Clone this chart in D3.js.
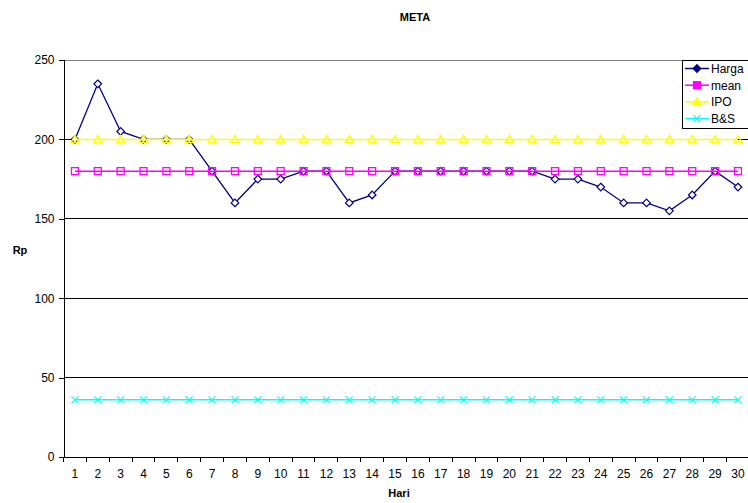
<!DOCTYPE html>
<html><head><meta charset="utf-8">
<script src="https://cdn.jsdelivr.net/npm/d3@7"></script>
<style>body{margin:0;background:#fff}svg{display:block;font-family:"Liberation Sans",Arial,sans-serif}</style>
</head><body><svg id="c" width="748" height="503"></svg>
<script>
const days = d3.range(1, 31).map(String);
const harga = [200,235,205,200,200,200,180,160,175,175,180,180,160,165,180,180,180,180,180,180,180,175,175,170,160,160,155,165,180,170];
const meanVal = days.map(() => 180);
const ipo = days.map(() => 200);
const bs = days.map(() => 36);
const yTicks = [0,50,100,150,200,250];
const seriesNames = ["Harga","mean","IPO","B&S"];

const svg = d3.select("#c");
const L = 63.5, R = 749.4, T = 60, B = 457;
const x = d3.scaleBand().domain(days).range([L, R]);
const y = d3.scaleLinear().domain([0, 250]).range([B, T]);

svg.append("g").selectAll("line").data(yTicks.filter(v => v > 0)).join("line")
  .attr("x1", L).attr("x2", R).attr("y1", d => y(d)).attr("y2", d => y(d))
  .attr("stroke", d => d === 250 ? "#808080" : "#000").attr("stroke-width", 1).attr("shape-rendering","crispEdges");

const ya = svg.append("g").attr("transform", `translate(${L},0)`)
  .call(d3.axisLeft(y).tickValues(yTicks).tickSize(5).tickPadding(4));
ya.select(".domain").attr("stroke", "#000").attr("shape-rendering","crispEdges");
ya.selectAll("line").attr("shape-rendering","crispEdges");
ya.selectAll("text").attr("font-size", 12).attr("font-family", "Liberation Sans, Arial").attr("fill","#000");

const xa = svg.append("g").attr("transform", `translate(0,${B})`)
  .call(d3.axisBottom(x).tickSize(0).tickPadding(12));
xa.select(".domain").attr("stroke", "#000").attr("shape-rendering","crispEdges");
xa.selectAll("text").attr("font-size", 12).attr("font-family", "Liberation Sans, Arial").attr("fill","#000");
svg.append("g").selectAll("line").data(d3.range(0, 31)).join("line")
  .attr("x1", i => L + i * x.step()).attr("x2", i => L + i * x.step())
  .attr("y1", B).attr("y2", B + 5).attr("stroke", "#000").attr("shape-rendering","crispEdges");

const cx = d => x(d) + x.bandwidth() / 2;
const line = d3.line().x((v, i) => cx(days[i])).y(v => y(v));

function marker(g, type, color, filled) {
  if (type === "diamond") {
    g.append("path").attr("d", "M0,-3.8L3.8,0L0,3.8L-3.8,0Z").attr("fill", filled ? color : "#fff").attr("stroke", color).attr("stroke-width", 1.2);
  } else if (type === "square") {
    g.append("rect").attr("x", -3.5).attr("y", -3.5).attr("width", 7).attr("height", 7).attr("fill", filled ? color : "none").attr("stroke", color).attr("stroke-width", 1.3);
  } else if (type === "triangle") {
    g.append("path").attr("d", "M0,-4L4,3L-4,3Z").attr("fill", filled ? color : "none").attr("stroke", color).attr("stroke-width", 1.3);
  } else {
    g.append("path").attr("d", "M-3.5,-3.5L3.5,3.5M-3.5,3.5L3.5,-3.5").attr("stroke", color).attr("stroke-width", 1.2);
  }
}

const series = [
  {name: seriesNames[0], vals: harga, color: "#000080", type: "diamond"},
  {name: seriesNames[1], vals: meanVal, color: "#FF00FF", type: "square"},
  {name: seriesNames[2], vals: ipo, color: "#FFFF00", type: "triangle"},
  {name: seriesNames[3], vals: bs, color: "#00FFFF", type: "x"}
];
series.forEach(s => {
  svg.append("path").attr("d", line(s.vals)).attr("fill", "none").attr("stroke", s.color).attr("stroke-width", s.type==="diamond"?1.3:1.5);
  s.vals.forEach((v, i) => {
    const g = svg.append("g").attr("transform", `translate(${cx(days[i])},${y(v)})`);
    marker(g, s.type, s.color, false);
  });
});

svg.append("text").attr("x", 415).attr("y", 21).attr("text-anchor", "middle").attr("font-size", 11).attr("font-weight", "bold").text("META");
svg.append("text").attr("x", 20).attr("y", 254).attr("text-anchor", "middle").attr("font-size", 11).attr("font-weight", "bold").text("Rp");
svg.append("text").attr("x", 399).attr("y", 497).attr("text-anchor", "middle").attr("font-size", 11).attr("font-weight", "bold").text("Hari");

const lg = svg.append("g");
lg.append("rect").attr("x", 682.5).attr("y", 60.5).attr("width", 70).attr("height", 68).attr("fill", "#fff").attr("stroke", "#000");
legendItems = series.map(s => ({name: s.name, color: s.color, type: s.type}));
legendItems.forEach((it, i) => {
  const yy = 68.5 + i * 16.7;
  lg.append("line").attr("x1", 685).attr("x2", 709).attr("y1", yy).attr("y2", yy).attr("stroke", it.color).attr("stroke-width", 1.5);
  const g = lg.append("g").attr("transform", `translate(697,${yy})`);
  marker(g, it.type, it.color, true);
  lg.append("text").attr("x", 711).attr("y", yy + 4.5).attr("font-size", 12).text(it.name);
});
</script></body></html>
